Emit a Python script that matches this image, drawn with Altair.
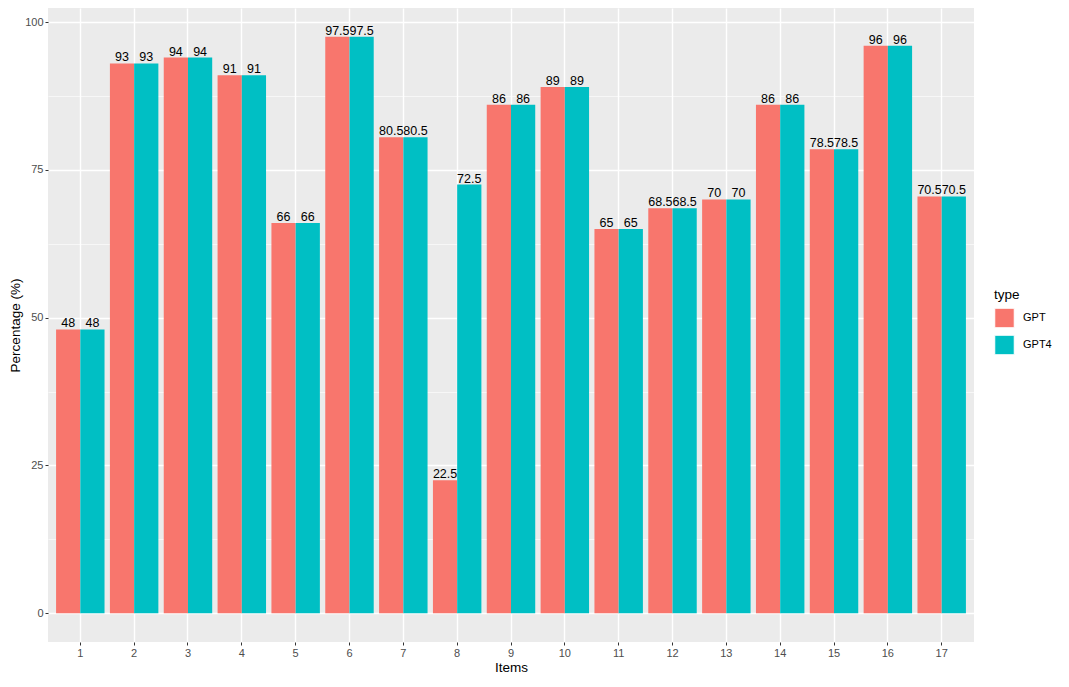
import altair as alt
import pandas as pd

items = [str(i) for i in range(1, 18)]
gpt = [48, 93, 94, 91, 66, 97.5, 80.5, 22.5, 86, 89, 65, 68.5, 70, 86, 78.5, 96, 70.5]
gpt4 = [48, 93, 94, 91, 66, 97.5, 80.5, 72.5, 86, 89, 65, 68.5, 70, 86, 78.5, 96, 70.5]
types = ["GPT", "GPT4"]
colors = ["#F8766D", "#00BFC4"]

rows = []
for it, a, b in zip(items, gpt, gpt4):
    rows.append({"Items": it, "type": "GPT", "value": a})
    rows.append({"Items": it, "type": "GPT4", "value": b})
df = pd.DataFrame(rows)

major = "datum.value % 25 === 0"

x_enc = alt.X(
    "Items:N",
    sort=items,
    title="Items",
    scale=alt.Scale(paddingInner=0.1, paddingOuter=0.15),
    axis=alt.Axis(
        labelAngle=0, bandPosition=0.5, grid=True, gridColor="white", gridWidth=1.4,
        domain=False, tickColor="#333333", tickSize=3, tickWidth=1,
        labelColor="#4D4D4D", labelFontSize=11, labelPadding=2,
        titleColor="black", titleFontSize=13.5, titleFontWeight="normal", titlePadding=2,
        labelFont="Liberation Sans", titleFont="Liberation Sans",
    ),
)
xo_enc = alt.XOffset("type:N", sort=types, scale=alt.Scale(paddingInner=0, paddingOuter=0))
y_enc = alt.Y(
    "value:Q",
    title="Percentage (%)",
    scale=alt.Scale(domain=[-4.875, 102.375], nice=False, zero=False),
    axis=alt.Axis(
        values=[0, 12.5, 25, 37.5, 50, 62.5, 75, 87.5, 100],
        labelExpr="datum.value % 25 === 0 ? datum.label : ''",
        grid=True, gridColor="white",
        gridWidth={"condition": {"test": major, "value": 1.4}, "value": 0.6},
        tickColor={"condition": {"test": major, "value": "#333333"}, "value": "transparent"},
        domain=False, tickSize=3, labelColor="#4D4D4D", labelFontSize=11, labelPadding=2,
        titleColor="black", titleFontSize=13.5, titleFontWeight="normal", titlePadding=2,
        labelFont="Liberation Sans", titleFont="Liberation Sans",
    ),
)

bars = alt.Chart(df).mark_bar().encode(
    x=x_enc,
    xOffset=xo_enc,
    y=y_enc,
    color=alt.Color(
        "type:N",
        sort=types,
        scale=alt.Scale(domain=types, range=colors),
        legend=alt.Legend(
            title="type", orient="none", legendX=946, legendY=280,
            symbolType="square", symbolSize=380, symbolStrokeColor="white", symbolStrokeWidth=1,
            symbolOpacity=1, titleFontSize=13.5, titleFontWeight="normal", titleColor="black",
            labelFontSize=11, labelColor="black", rowPadding=2, labelOffset=8, titlePadding=6,
            titleFont="Liberation Sans", labelFont="Liberation Sans",
        ),
    ),
)

labels = alt.Chart(df).mark_text(
    baseline="bottom", dy=1, fontSize=12.5, color="black", font="Liberation Sans"
).encode(
    x=alt.X("Items:N", sort=items),
    xOffset=alt.XOffset("type:N", sort=types),
    y=alt.Y("value:Q"),
    text=alt.Text("value:Q", format="~g"),
)

chart = (
    alt.layer(bars, labels)
    .properties(
        width=926,
        height=634,
        autosize=alt.AutoSizeParams(type="none"),
        padding={"left": 40, "top": 0, "right": 87, "bottom": 36},
        background="white",
    )
    .configure_view(fill="#EBEBEB", stroke=None)
)

chart.save("out.html", embed_options={"renderer": "svg", "actions": False})
